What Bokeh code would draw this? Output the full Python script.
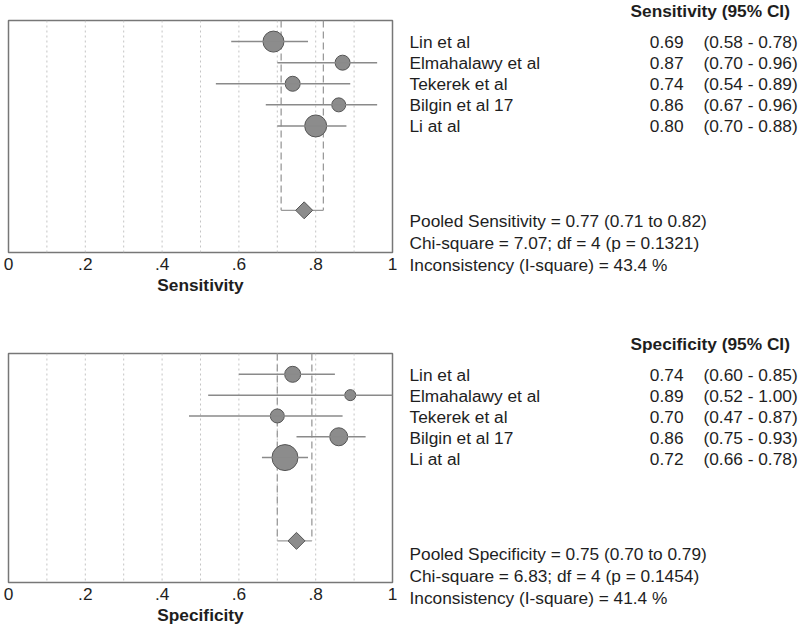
import numpy as np
from bokeh.plotting import figure
from bokeh.models import Range1d, FixedTicker, ColumnDataSource
from bokeh.layouts import row, column
from bokeh.embed import file_html
from bokeh.resources import INLINE
from bokeh.core.properties import value

# ---------------- data ----------------
studies = ["Lin et al", "Elmahalawy et al", "Tekerek et al", "Bilgin et al 17", "Li at al"]

sens_est = [0.69, 0.87, 0.74, 0.86, 0.80]
sens_lo = [0.58, 0.70, 0.54, 0.67, 0.70]
sens_hi = [0.78, 0.96, 0.89, 0.96, 0.88]
sens_weight = [21, 15, 15, 14, 22]          # relative study weight (marker size)
sens_pooled = [0.77, 0.71, 0.82]             # estimate, lower, upper
sens_stats = ["Pooled Sensitivity = 0.77 (0.71 to 0.82)",
              "Chi-square = 7.07; df =  4 (p = 0.1321)",
              "Inconsistency (I-square) = 43.4 %"]

spec_est = [0.74, 0.89, 0.70, 0.86, 0.72]
spec_lo = [0.60, 0.52, 0.47, 0.75, 0.66]
spec_hi = [0.85, 1.00, 0.87, 0.93, 0.78]
spec_weight = [16, 11, 14, 18, 26]
spec_pooled = [0.75, 0.70, 0.79]
spec_stats = ["Pooled Specificity = 0.75 (0.70 to 0.79)",
              "Chi-square = 6.83; df =  4 (p = 0.1454)",
              "Inconsistency (I-square) = 41.4 %"]

tick_values = [0.0, 0.2, 0.4, 0.6, 0.8, 1.0]
tick_labels = ["0", ".2", ".4", ".6", ".8", "1"]
grid_values = [0.1, 0.2, 0.3, 0.4, 0.5, 0.6, 0.7, 0.8, 0.9]

FONT = "Liberation Sans"
TXT = "#1e1e1e"
FS = "17.3px"

LEFT_W = 400      # forest-plot figure width
TEXT_W = 398      # text figure width


def forest(est, lo, hi, weight, pooled, axis_title, bt, bb, height):
    n = len(est)
    rows = list(range(1, n + 1))
    pooled_row = n + 4
    y_bottom = n + 6
    p = figure(width=LEFT_W, height=height, x_range=Range1d(0, 1),
               y_range=Range1d(y_bottom, 0), output_backend="svg",
               toolbar_location=None, min_border_left=8, min_border_right=8,
               min_border_top=bt, min_border_bottom=bb, y_axis_location=None,
               background_fill_color="white", border_fill_color="white")
    p.xgrid.visible = False
    p.ygrid.visible = False
    p.outline_line_color = "#777777"
    p.outline_line_width = 1.5

    p.segment(x0=grid_values, y0=[0] * len(grid_values), x1=grid_values,
              y1=[y_bottom] * len(grid_values), line_color="#c4c4c4",
              line_width=1, line_dash="2 3")

    p.segment(x0=pooled[1:], y0=[0, 0], x1=pooled[1:],
              y1=[pooled_row, pooled_row], line_color="#9a9a9a",
              line_width=1.3, line_dash="7 4")
    p.segment(x0=[pooled[1]], y0=[pooled_row], x1=[pooled[2]], y1=[pooled_row],
              line_color="#9a9a9a", line_width=1.3)

    src = ColumnDataSource(dict(est=est, lo=lo, hi=hi, y=rows, w=weight))
    p.scatter("est", "y", size="w", source=src, marker="circle",
              fill_color="#8c8c8c", line_color="#555555", line_width=1)
    p.segment("lo", "y", "hi", "y", source=src, line_color="#8a8a8a", line_width=1.5)

    p.scatter(x=[pooled[0]], y=[pooled_row], marker="square", angle=np.pi / 4,
              size=12, fill_color="#8c8c8c", line_color="#555555", line_width=1)

    ax = p.xaxis[0]
    ax.ticker = FixedTicker(ticks=tick_values)
    ax.major_label_overrides = dict(zip(tick_values, tick_labels))
    ax.major_tick_out = 0
    ax.major_tick_in = 0
    ax.minor_tick_out = 0
    ax.minor_tick_in = 0
    ax.axis_line_color = None
    ax.major_label_text_font = FONT
    ax.major_label_text_font_size = FS
    ax.major_label_text_color = TXT
    ax.major_label_standoff = 5
    ax.axis_label = axis_title
    ax.axis_label_text_font = FONT
    ax.axis_label_text_font_size = FS
    ax.axis_label_text_font_style = "bold"
    ax.axis_label_text_color = TXT
    ax.axis_label_standoff = 2
    return p


def textpanel(est, lo, hi, header, stats, bt, bb, height):
    n = len(est)
    rows = list(range(1, n + 1))
    pooled_row = n + 4
    y_bottom = n + 6
    rpp = y_bottom / (height - bt - bb)
    t = figure(width=TEXT_W, height=height, x_range=Range1d(0, TEXT_W),
               y_range=Range1d(y_bottom + bb * rpp, -bt * rpp),
               output_backend="svg", toolbar_location=None, min_border=0,
               x_axis_location=None, y_axis_location=None,
               outline_line_color=None, background_fill_color="white",
               border_fill_color="white")
    t.xgrid.visible = False
    t.ygrid.visible = False
    vals = ["%.2f" % v for v in est]
    cis = ["(%.2f - %.2f)" % (a, b) for a, b in zip(lo, hi)]
    common = dict(text_font=value(FONT), text_font_size=FS, text_color=TXT,
                  text_baseline="middle")
    t.text(x=[9] * n, y=rows, text=studies, text_align="left", **common)
    t.text(x=[283] * n, y=rows, text=vals, text_align="right", **common)
    t.text(x=[303] * n, y=rows, text=cis, text_align="left", **common)
    t.text(x=[230], y=[-0.45], text=[header], text_align="left",
           text_font_style="bold", **common)
    t.text(x=[9] * 3, y=[pooled_row + 0.5, pooled_row + 1.55, pooled_row + 2.6],
           text=stats, text_align="left", **common)
    return t


H1, BT1, BB1 = 300, 20, 48
H2, BT2, BB2 = 327, 53, 42

p1 = forest(sens_est, sens_lo, sens_hi, sens_weight, sens_pooled, "Sensitivity", BT1, BB1, H1)
p2 = forest(spec_est, spec_lo, spec_hi, spec_weight, spec_pooled, "Specificity", BT2, BB2, H2)
t1 = textpanel(sens_est, sens_lo, sens_hi, "Sensitivity (95% CI)", sens_stats, BT1, BB1, H1)
t2 = textpanel(spec_est, spec_lo, spec_hi, "Specificity (95% CI)", spec_stats, BT2, BB2, H2)

layout = row(column(p1, p2), column(t1, t2))
open("out.html", "w").write(file_html(layout, INLINE))
